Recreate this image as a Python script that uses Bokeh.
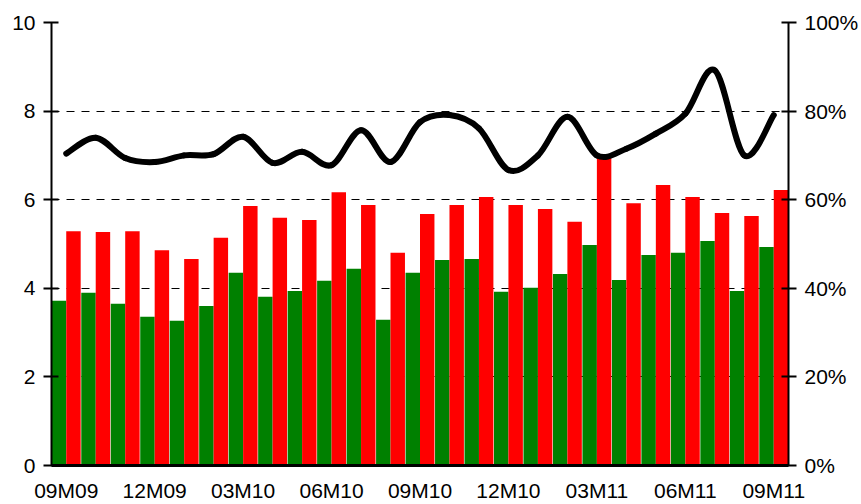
import numpy as np
from bokeh.plotting import figure
from bokeh.models import Range1d, LinearAxis, FixedTicker, PrintfTickFormatter
from bokeh.embed import file_html
from bokeh.resources import INLINE

months = ["09M09", "10M09", "11M09", "12M09", "01M10", "02M10", "03M10", "04M10", "05M10",
          "06M10", "07M10", "08M10", "09M10", "10M10", "11M10", "12M10", "01M11", "02M11",
          "03M11", "04M11", "05M11", "06M11", "07M11", "08M11", "09M11"]
green_vals = [3.72, 3.90, 3.65, 3.36, 3.27, 3.60, 4.35, 3.81, 3.94, 4.17, 4.44, 3.29, 4.35,
              4.64, 4.66, 3.92, 4.01, 4.32, 4.98, 4.19, 4.75, 4.80, 5.07, 3.94, 4.93]
red_vals = [5.29, 5.27, 5.29, 4.86, 4.66, 5.14, 5.86, 5.59, 5.54, 6.17, 5.88, 4.80, 5.68,
            5.88, 6.06, 5.88, 5.79, 5.50, 6.96, 5.92, 6.33, 6.06, 5.70, 5.63, 6.22]
line_pct = [70.4, 74.0, 69.4, 68.5, 70.0, 70.3, 74.2, 68.3, 70.8, 67.8, 75.7, 68.5, 77.5,
            79.1, 76.1, 66.7, 70.0, 78.7, 70.0, 71.5, 74.9, 79.4, 89.2, 70.0, 79.1]
label_every = 3
left_ticks = [0, 2, 4, 6, 8, 10]
right_ticks = [0, 20, 40, 60, 80, 100]

FONT = "Liberation Sans"
FS = "21px"

n = len(months)
idx = np.arange(n)

p = figure(width=861, height=504, output_backend="svg", toolbar_location=None,
           x_range=Range1d(0, n), y_range=Range1d(0, 10),
           min_border_left=51, min_border_right=71, min_border_top=22, min_border_bottom=38)
p.extra_y_ranges = {"pct": Range1d(0, 100)}
p.outline_line_color = None
p.background_fill_color = "white"
p.border_fill_color = "white"

# bars
p.vbar(x=idx + 0.255, top=green_vals, width=0.49, bottom=0, color="#008000", line_color=None)
p.vbar(x=idx + 0.745, top=red_vals, width=0.49, bottom=0, color="#FF0000", line_color=None)

# smoothed line (Catmull-Rom -> cubic bezier segments)
xs = idx + 0.5
ys = np.array(line_pct, dtype=float)
xp = np.concatenate([[xs[0]], xs, [xs[-1]]])
yp = np.concatenate([[ys[0]], ys, [ys[-1]]])
x0 = xs[:-1]; y0 = ys[:-1]; x1 = xs[1:]; y1 = ys[1:]
cx0 = x0 + (xp[2:-1] - xp[0:-3]) / 6.0
cy0 = y0 + (yp[2:-1] - yp[0:-3]) / 6.0
cx1 = x1 - (xp[3:] - xp[1:-2]) / 6.0
cy1 = y1 - (yp[3:] - yp[1:-2]) / 6.0
p.bezier(x0=x0, y0=y0, x1=x1, y1=y1, cx0=cx0, cy0=cy0, cx1=cx1, cy1=cy1,
         line_color="black", line_width=6, line_cap="round", y_range_name="pct")

# grid
p.xgrid.visible = False
p.ygrid.ticker = FixedTicker(ticks=left_ticks[1:])
p.ygrid.grid_line_color = "black"
p.ygrid.grid_line_dash = "8 7"
p.ygrid.grid_line_width = 1

# x axis
xa = p.xaxis[0]
tick_pos = [float(i + 0.5) for i in range(0, n, label_every)]
xa.ticker = FixedTicker(ticks=tick_pos)
xa.major_label_overrides = {float(i + 0.5): months[i] for i in range(0, n, label_every)}
xa.major_tick_line_color = None
xa.major_tick_out = 0
xa.major_tick_in = 0
xa.minor_tick_line_color = None
xa.axis_line_width = 3
xa.axis_line_color = "black"
xa.major_label_text_font = FONT
xa.major_label_text_font_size = FS
xa.major_label_text_color = "black"
xa.major_label_standoff = 13

# left axis
ya = p.yaxis[0]
ya.ticker = FixedTicker(ticks=left_ticks)
ya.minor_tick_line_color = None
ya.axis_line_width = 2
ya.major_tick_line_width = 2
ya.major_tick_out = 8
ya.major_tick_in = 7
ya.major_label_standoff = 8
ya.major_label_text_font = FONT
ya.major_label_text_font_size = FS
ya.major_label_text_color = "black"

# right axis
ra = LinearAxis(y_range_name="pct", ticker=FixedTicker(ticks=right_ticks),
                formatter=PrintfTickFormatter(format="%d%%"))
ra.minor_tick_line_color = None
ra.axis_line_width = 2
ra.major_tick_line_width = 2
ra.major_tick_out = 8
ra.major_tick_in = 7
ra.major_label_standoff = 8
ra.major_label_text_font = FONT
ra.major_label_text_font_size = FS
ra.major_label_text_color = "black"
p.add_layout(ra, "right")

open("out.html", "w").write(file_html(p, INLINE))
